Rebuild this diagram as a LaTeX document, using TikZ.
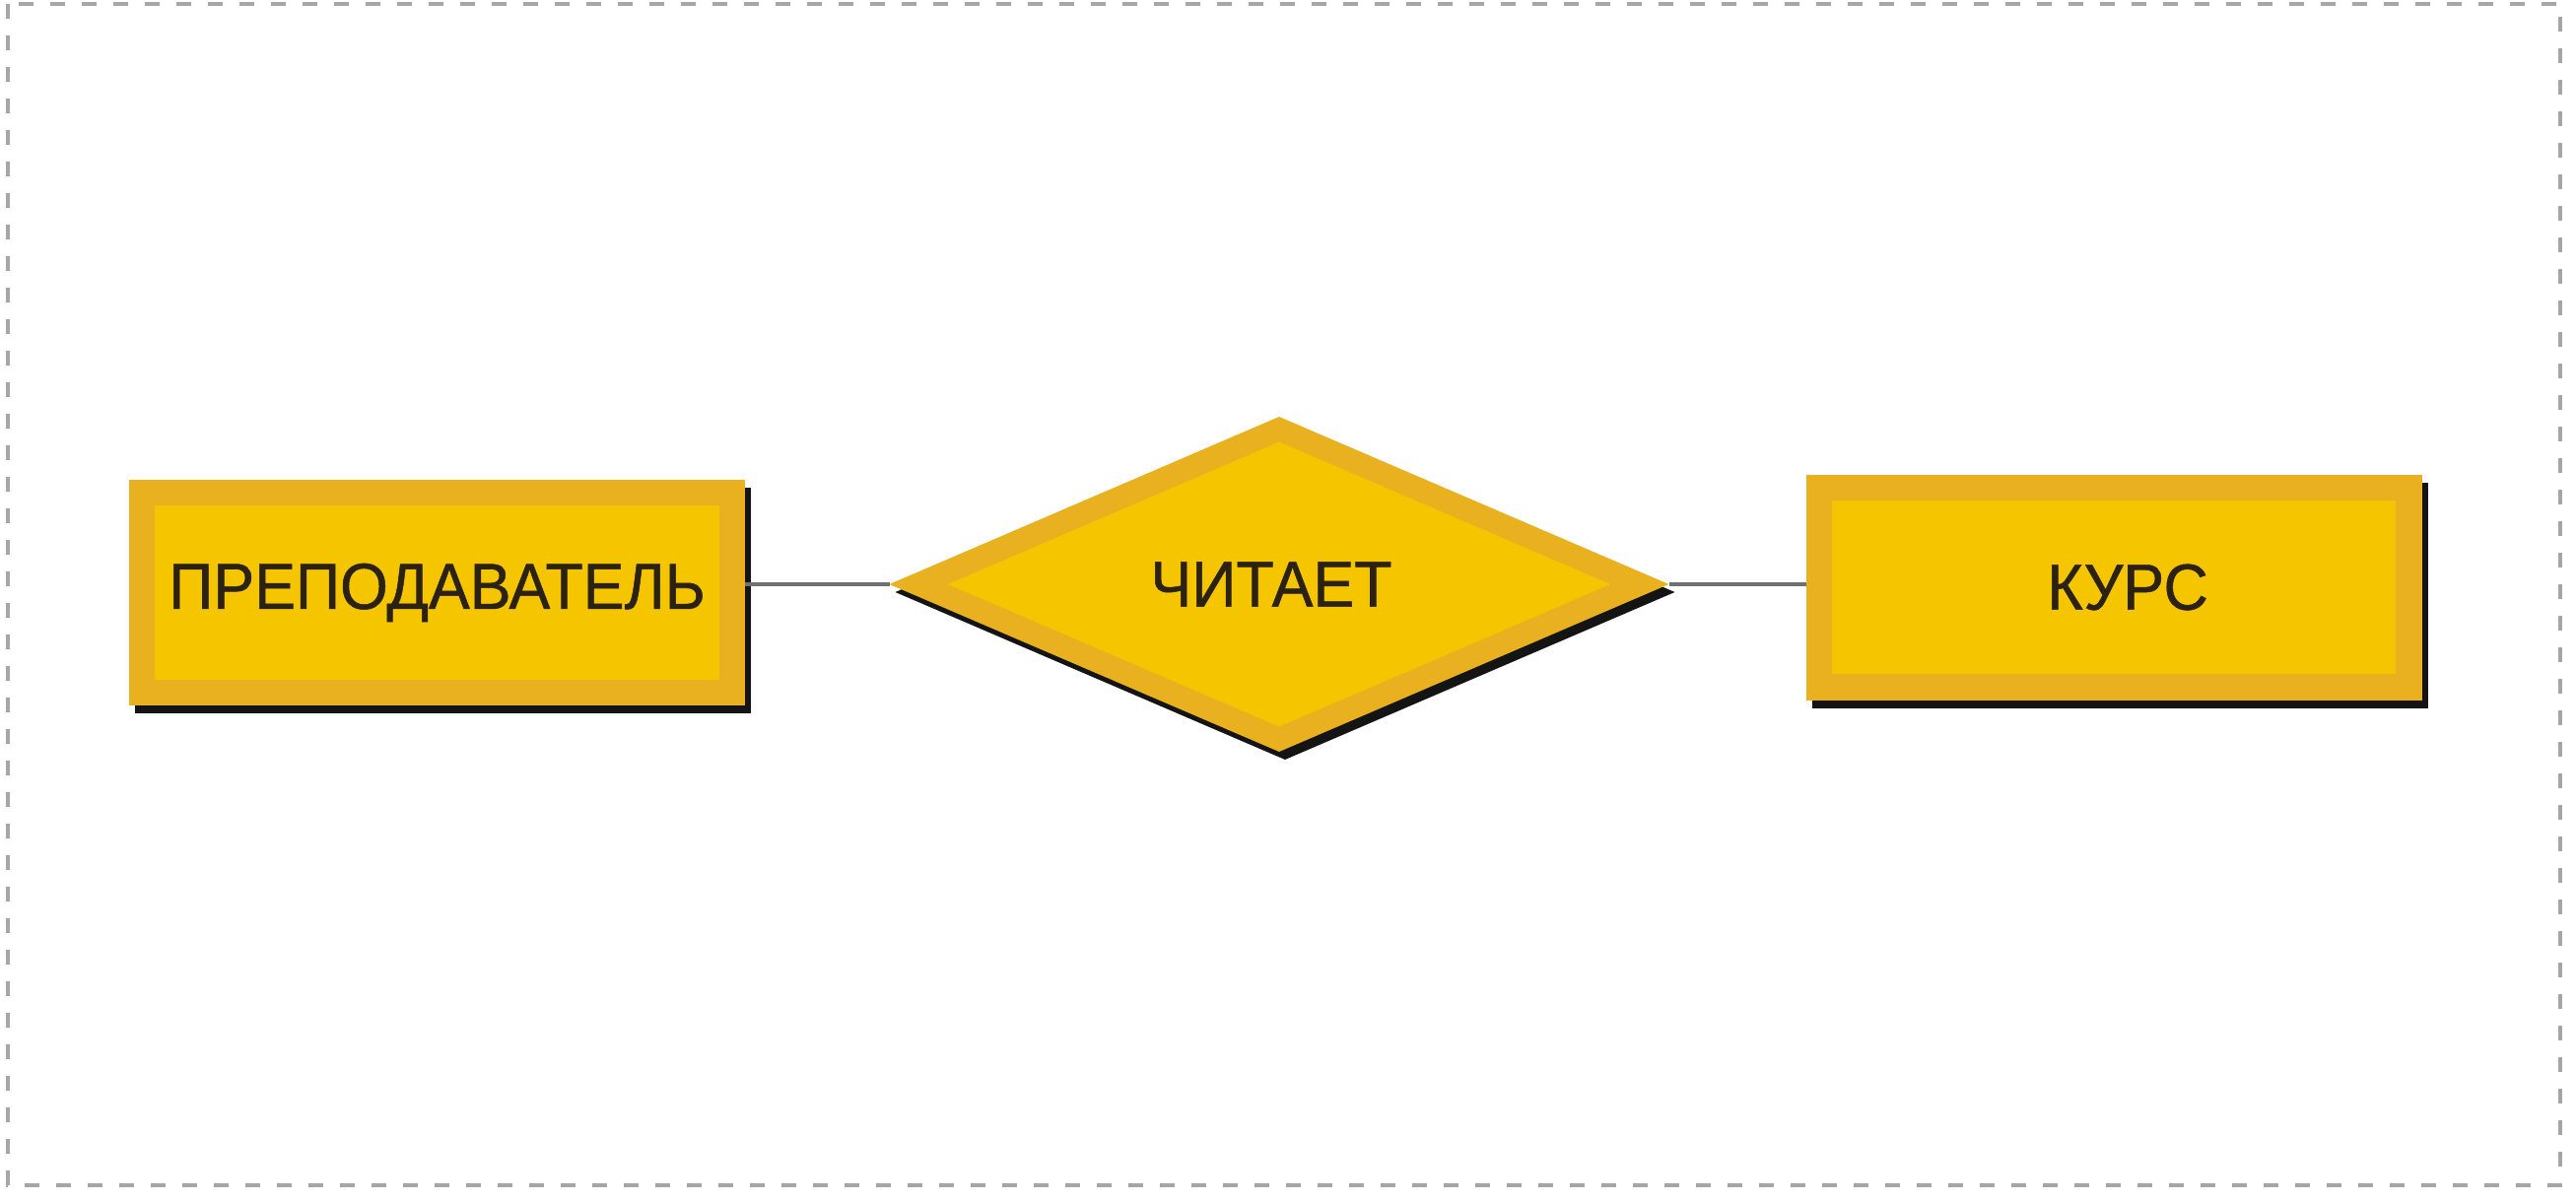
\documentclass[tikz,border=0pt]{standalone}
\usepackage{fontspec}
\setmainfont{Liberation Sans}[FakeStretch=0.95, FakeBold=0.8]
\usetikzlibrary{shapes.geometric,shadows,calc}
\definecolor{rim}{HTML}{E9B01F}
\definecolor{core}{HTML}{F5C600}
\definecolor{ink}{HTML}{2B2211}
\definecolor{conncol}{HTML}{707070}
\tikzset{
  x=0.25pt, y=-0.25pt,
  blackshadow/.style={drop shadow={shadow xshift=1.5pt, shadow yshift=-2pt, fill=black!92, opacity=1}},
  entity/.style={rectangle, fill=rim, draw=none, outer sep=0pt, inner sep=0pt,
    minimum width=156.25pt, minimum height=57.25pt, blackshadow,
    text=ink, font=\fontsize{16.5}{19}\selectfont,
    path picture={\fill[core] ($(path picture bounding box.south west)+(6.6pt,6.6pt)$) rectangle ($(path picture bounding box.north east)-(6.6pt,6.6pt)$);}},
  relation/.style={diamond, aspect=2.33, fill=rim, draw=none, outer sep=0pt, inner sep=0pt,
    minimum width=197.75pt, minimum height=85pt, blackshadow,
    text=ink, font=\fontsize{16.5}{19}\selectfont,
    path picture={\fill[core] ($(path picture bounding box.center)!0.85!(path picture bounding box.west)$) -- ($(path picture bounding box.center)!0.85!(path picture bounding box.north)$) -- ($(path picture bounding box.center)!0.85!(path picture bounding box.east)$) -- ($(path picture bounding box.center)!0.85!(path picture bounding box.south)$) -- cycle;}},
  conn/.style={draw=conncol, line width=0.8pt},
  frame/.style={draw=gray!70, line width=0.9pt, dash pattern=on 3.75pt off 4.25pt}
}
\begin{document}
\begin{tikzpicture}
\useasboundingbox (0,0) rectangle (2614,1220);
\draw[frame] (8,4) rectangle (2598,1203);
\node[entity] (prep) at (443.5,601.5) {ПРЕПОДАВАТЕЛЬ};
\node[relation] (rel) at (1298,593) {ЧИТАЕТ\hspace*{4pt}};
\node[entity] (kurs) at (2145,596) {\hspace*{7pt}КУРС};
\draw[conn] (rel.west) -- (rel.west -| prep.east);
\draw[conn] (rel.east) -- (rel.east -| kurs.west);
\end{tikzpicture}
\end{document}
